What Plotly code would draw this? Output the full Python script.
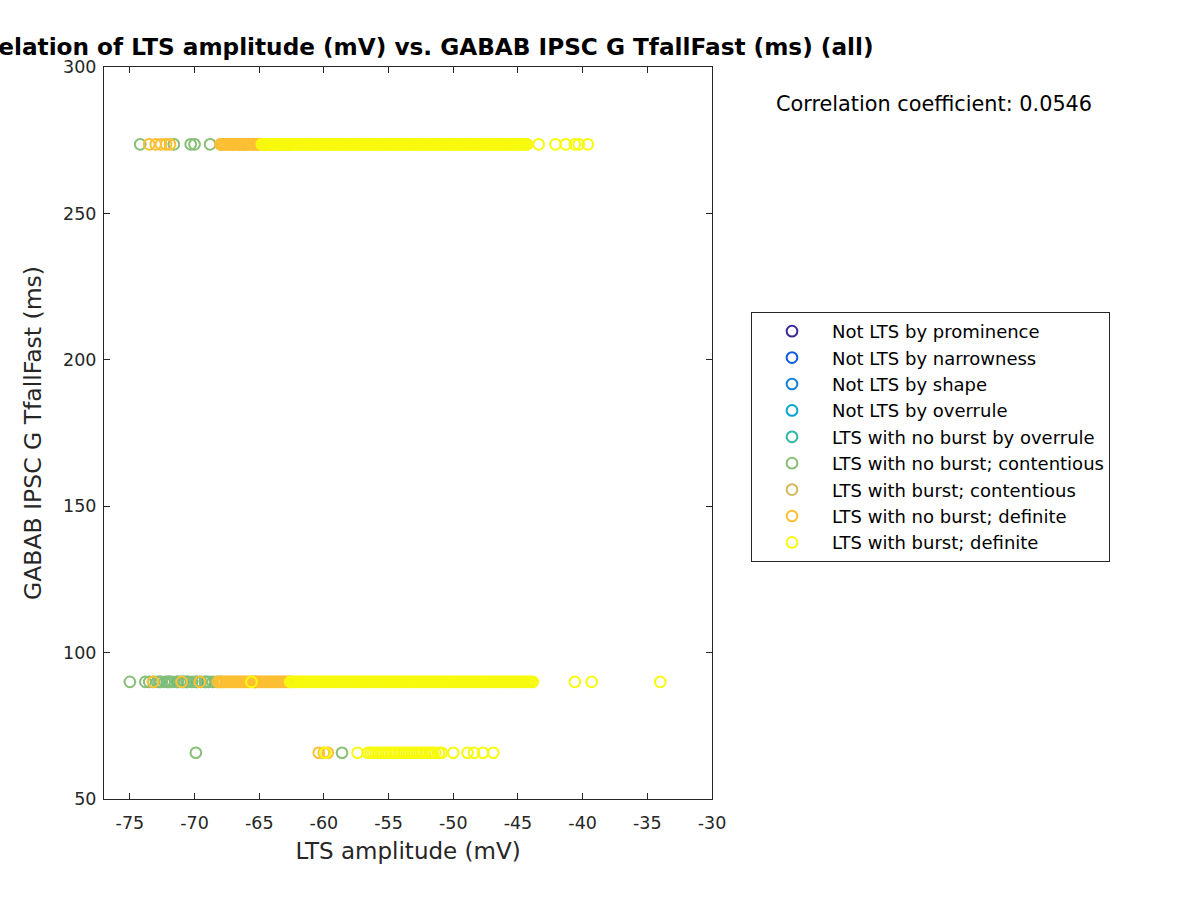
import plotly.graph_objects as go

# ---------------- data ----------------
categories = [
    "Not LTS by prominence",
    "Not LTS by narrowness",
    "Not LTS by shape",
    "Not LTS by overrule",
    "LTS with no burst by overrule",
    "LTS with no burst; contentious",
    "LTS with burst; contentious",
    "LTS with no burst; definite",
    "LTS with burst; definite",
]
colors = ["#3b2a98", "#0f5ddd", "#1483d6", "#06a5cb", "#2db7a3",
          "#87bf76", "#d3b859", "#fdbf33", "#f8fa0d"]

# GABAB IPSC G TfallFast levels (ms)
y_top = 273.6
y_mid = 90.0
y_low = 65.8

# LTS amplitude (mV) per category and level
nb_overrule_mid = [-72.7, -72.1, -71.9, -71.3, -70.9, -70.6, -69.8, -69.1]

nb_cont_top = [-74.2, -71.6, -70.3, -70.0, -68.8, -67.9, -67.0, -66.2]
nb_cont_mid = [-75.0, -73.8, -73.5, -73.2, -72.9, -72.6, -72.3, -72.0, -71.7,
               -71.4, -71.1, -70.8, -70.5, -70.2, -69.9, -69.5, -69.2, -68.9,
               -68.6, -68.3, -68.0]
nb_cont_low = [-69.9, -58.6]

b_cont_top = [-66.5]
b_cont_mid = [-65.3]

nb_def_top = [-73.5, -73.0, -72.6, -72.2, -71.9,
              -68.00, -67.85, -67.70, -67.56, -67.40, -67.25, -67.10, -66.96,
              -66.80, -66.65, -66.50, -66.36, -66.20, -66.05, -65.90, -65.76,
              -65.60, -65.45, -65.30, -65.16, -65.00, -64.85, -64.70, -64.50,
              -64.20, -63.90, -63.50, -63.10, -62.70]
nb_def_mid = [-73.2, -71.0, -69.6,
              -68.20, -68.05, -67.90, -67.76, -67.60, -67.45, -67.30, -67.16,
              -67.00, -66.85, -66.70, -66.56, -66.40, -66.25, -66.10, -65.96,
              -65.80, -65.65, -65.50, -65.36, -65.20, -65.05, -64.90, -64.76,
              -64.60, -64.45, -64.30, -64.16, -64.00, -63.85, -63.70, -63.56,
              -63.40, -63.25, -63.10, -62.96, -62.80, -62.65, -62.50]
nb_def_low = [-60.4, -60.0, -59.7]

b_def_top = [-64.80, -64.65, -64.50, -64.36, -64.20, -64.05, -63.90, -63.76,
             -63.60, -63.45, -63.30, -63.16, -63.00, -62.85, -62.70, -62.56,
             -62.40, -62.25, -62.10, -61.96, -61.80, -61.65, -61.50, -61.36,
             -61.20, -61.05, -60.90, -60.76, -60.60, -60.45, -60.30, -60.16,
             -60.00, -59.85, -59.70, -59.56, -59.40, -59.25, -59.10, -58.96,
             -58.80, -58.65, -58.50, -58.36, -58.20, -58.05, -57.90, -57.76,
             -57.60, -57.45, -57.30, -57.16, -57.00, -56.85, -56.70, -56.56,
             -56.40, -56.25, -56.10, -55.96, -55.80, -55.65, -55.50, -55.36,
             -55.20, -55.05, -54.90, -54.76, -54.60, -54.45, -54.30, -54.16,
             -54.00, -53.85, -53.70, -53.56, -53.40, -53.25, -53.10, -52.96,
             -52.80, -52.65, -52.50, -52.36, -52.20, -52.05, -51.90, -51.76,
             -51.60, -51.45, -51.30, -51.16, -51.00, -50.85, -50.70, -50.56,
             -50.40, -50.25, -50.10, -49.96, -49.80, -49.65, -49.50, -49.36,
             -49.20, -49.05, -48.90, -48.76, -48.60, -48.45, -48.30, -48.16,
             -48.00, -47.85, -47.70, -47.56, -47.40, -47.25, -47.10, -46.96,
             -46.80, -46.65, -46.50, -46.36, -46.20, -46.05, -45.90, -45.76,
             -45.60, -45.45, -45.30, -45.16, -45.00, -44.85, -44.70, -44.56,
             -44.40, -44.30,
             -43.4, -42.1, -41.3, -40.6, -40.3, -39.6]
b_def_mid = [-65.6,
             -62.60, -62.45, -62.30, -62.16, -62.00, -61.85, -61.70, -61.56,
             -61.40, -61.25, -61.10, -60.96, -60.80, -60.65, -60.50, -60.36,
             -60.20, -60.05, -59.90, -59.76, -59.60, -59.45, -59.30, -59.16,
             -59.00, -58.85, -58.70, -58.56, -58.40, -58.25, -58.10, -57.96,
             -57.80, -57.65, -57.50, -57.36, -57.20, -57.05, -56.90, -56.76,
             -56.60, -56.45, -56.30, -56.16, -56.00, -55.85, -55.70, -55.56,
             -55.40, -55.25, -55.10, -54.96, -54.80, -54.65, -54.50, -54.36,
             -54.20, -54.05, -53.90, -53.76, -53.60, -53.45, -53.30, -53.16,
             -53.00, -52.85, -52.70, -52.56, -52.40, -52.25, -52.10, -51.96,
             -51.80, -51.65, -51.50, -51.36, -51.20, -51.05, -50.90, -50.76,
             -50.60, -50.45, -50.30, -50.16, -50.00, -49.85, -49.70, -49.56,
             -49.40, -49.25, -49.10, -48.96, -48.80, -48.65, -48.50, -48.36,
             -48.20, -48.05, -47.90, -47.76, -47.60, -47.45, -47.30, -47.16,
             -47.00, -46.85, -46.70, -46.56, -46.40, -46.25, -46.10, -45.96,
             -45.80, -45.65, -45.50, -45.36, -45.20, -45.05, -44.90, -44.76,
             -44.60, -44.45, -44.30, -44.16, -44.00, -43.85,
             -40.6, -39.3, -34.0]
b_def_low = [-59.9, -57.4,
             -56.60, -56.40, -56.20, -56.00, -55.80, -55.60, -55.40, -55.20,
             -55.00, -54.80, -54.60, -54.40, -54.20, -54.00, -53.80, -53.60,
             -53.40, -53.20, -53.00, -52.80, -52.60, -52.40, -52.20, -52.00,
             -51.80, -51.60, -51.40, -51.10, -50.90,
             -50.0, -48.9, -48.4, -47.7, -46.9]

corr_text = "Correlation coefficient: 0.0546"
x_ticks = [-75, -70, -65, -60, -55, -50, -45, -40, -35, -30]
y_ticks = [50, 100, 150, 200, 250, 300]


def level(top=(), mid=(), low=()):
    xs = list(top) + list(mid) + list(low)
    ys = [y_top] * len(top) + [y_mid] * len(mid) + [y_low] * len(low)
    return xs, ys


series = [
    level(),
    level(),
    level(),
    level(),
    level(mid=nb_overrule_mid),
    level(top=nb_cont_top, mid=nb_cont_mid, low=nb_cont_low),
    level(top=b_cont_top, mid=b_cont_mid),
    level(top=nb_def_top, mid=nb_def_mid, low=nb_def_low),
    level(top=b_def_top, mid=b_def_mid, low=b_def_low),
]

FONT = "DejaVu Sans"
INK = "#262626"

fig = go.Figure()
for i, (name, col, (xs, ys)) in enumerate(zip(categories, colors, series)):
    fig.add_trace(go.Scatter(
        x=xs if xs else [None], y=ys if ys else [None],
        mode="markers", name=name, legendgroup=f"g{i}",
        marker=dict(symbol="circle-open", size=10.7, color=col,
                    line=dict(width=2, color=col)),
        hoverinfo="x+y+name",
    ))

fig.update_layout(
    width=1200, height=900,
    paper_bgcolor="white", plot_bgcolor="white",
    margin=dict(l=104, r=488, t=67, b=101),
    font=dict(family=FONT, color=INK, size=17),
    title=dict(text="<b>Correlation of LTS amplitude (mV) vs. GABAB IPSC G TfallFast (ms) (all)</b>",
               x=0.5, xref="paper", xanchor="center",
               y=1 - 47 / 900, yref="container", yanchor="middle",
               font=dict(family=FONT, size=23.2, color="black")),
    showlegend=True,
    legend=dict(x=(751 - 104) / 608, xanchor="left",
                y=(799 - 312) / 732, yanchor="top",
                bordercolor=INK, borderwidth=1, bgcolor="white",
                font=dict(family=FONT, size=18, color="black"),
                itemwidth=70, tracegroupgap=0),
    annotations=[dict(text=corr_text, xref="paper", yref="paper",
                      x=(774 - 104) / 608, y=(799 - 104) / 732,
                      xanchor="left", yanchor="middle", showarrow=False,
                      font=dict(family=FONT, size=20.8, color="black"))],
)
fig.update_xaxes(
    range=[-77, -30], tickvals=x_ticks, ticktext=[str(v) for v in x_ticks],
    ticks="inside", ticklen=6, tickcolor=INK, showline=True, linecolor=INK,
    linewidth=1, mirror="ticks", showgrid=False, zeroline=False,
    tickfont=dict(size=17.5, color=INK), ticklabelstandoff=8,
    title=dict(text="LTS amplitude (mV)", font=dict(size=23, color=INK), standoff=10),
)
fig.update_yaxes(
    range=[50, 300], tickvals=y_ticks,
    ticks="inside", ticklen=6, tickcolor=INK, showline=True, linecolor=INK,
    linewidth=1, mirror="ticks", showgrid=False, zeroline=False,
    tickfont=dict(size=17.5, color=INK), ticklabelstandoff=3,
    title=dict(text="GABAB IPSC G TfallFast (ms)", font=dict(size=23.5, color=INK), standoff=14),
)

fig.write_html("out.html")
